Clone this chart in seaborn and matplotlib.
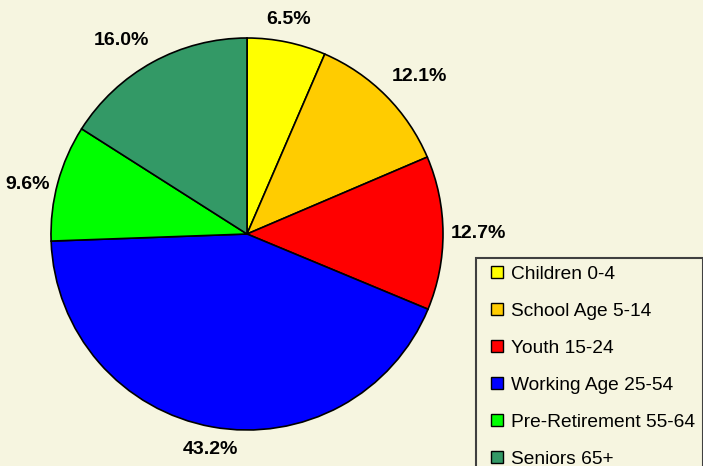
import numpy as np
import matplotlib
matplotlib.use('Agg')
import matplotlib.pyplot as plt
from matplotlib.lines import Line2D
import seaborn as sns

# Data
groups = ['Children 0-4', 'School Age 5-14', 'Youth 15-24', 'Working Age 25-54',
          'Pre-Retirement 55-64', 'Seniors 65+']
shares = [6.5, 12.1, 12.7, 43.2, 9.6, 16.0]
colors = ['#FFFF00', '#FFCC00', '#FF0000', '#0000FF', '#00FF00', '#339966']

bg = '#F6F5E0'

sns.set_theme(style='white', rc={'figure.facecolor': bg, 'axes.facecolor': bg,
                                 'text.color': 'black'})
plt.rcParams['font.family'] = ['Liberation Sans', 'DejaVu Sans']

fig = plt.figure(figsize=(7.03, 4.66), dpi=100)
ax = fig.add_axes([51 / 703, 36 / 466, 392 / 703, 392 / 466])

wedges, _ = ax.pie(shares, colors=colors, startangle=90, counterclock=False,
                   wedgeprops={'edgecolor': 'black', 'linewidth': 1.2})
ax.set_xlim(-1, 1)
ax.set_ylim(-1, 1)
ax.set_aspect('auto')
ax.axis('off')

# Percentage labels just outside each slice, aligned Excel-style
for w, val in zip(wedges, shares):
    ang = np.deg2rad((w.theta1 + w.theta2) / 2)
    c, s = np.cos(ang), np.sin(ang)
    ha = 'left' if c > 0.3 else ('right' if c < -0.3 else 'center')
    va = 'bottom' if s > 0.3 else ('top' if s < -0.3 else 'center')
    ax.text(1.04 * c, 1.075 * s - (0.03 if va == 'center' and c < 0 else 0),
            f'{val:.1f}%', ha=ha, va=va, fontsize=14,
            fontweight='bold', color='black', clip_on=False)

# Legend
handles = [Line2D([0], [0], marker='s', linestyle='none', markersize=9,
                  markerfacecolor=col, markeredgecolor='black', markeredgewidth=1.0)
           for col in colors]
leg = fig.legend(handles, groups, loc='upper left', bbox_to_anchor=(476 / 703, 1 - 258 / 466),
                 fontsize=13.8, frameon=True, fancybox=False, borderpad=0.4,
                 handlelength=1.4, handletextpad=0.05, labelspacing=1.02,
                 borderaxespad=0, labelcolor='black')
leg.get_frame().set_facecolor(bg)
leg.get_frame().set_edgecolor('#404040')
leg.get_frame().set_linewidth(1.5)
leg.get_frame().set_alpha(1)

fig.savefig('out.png', dpi=100, facecolor=bg)
